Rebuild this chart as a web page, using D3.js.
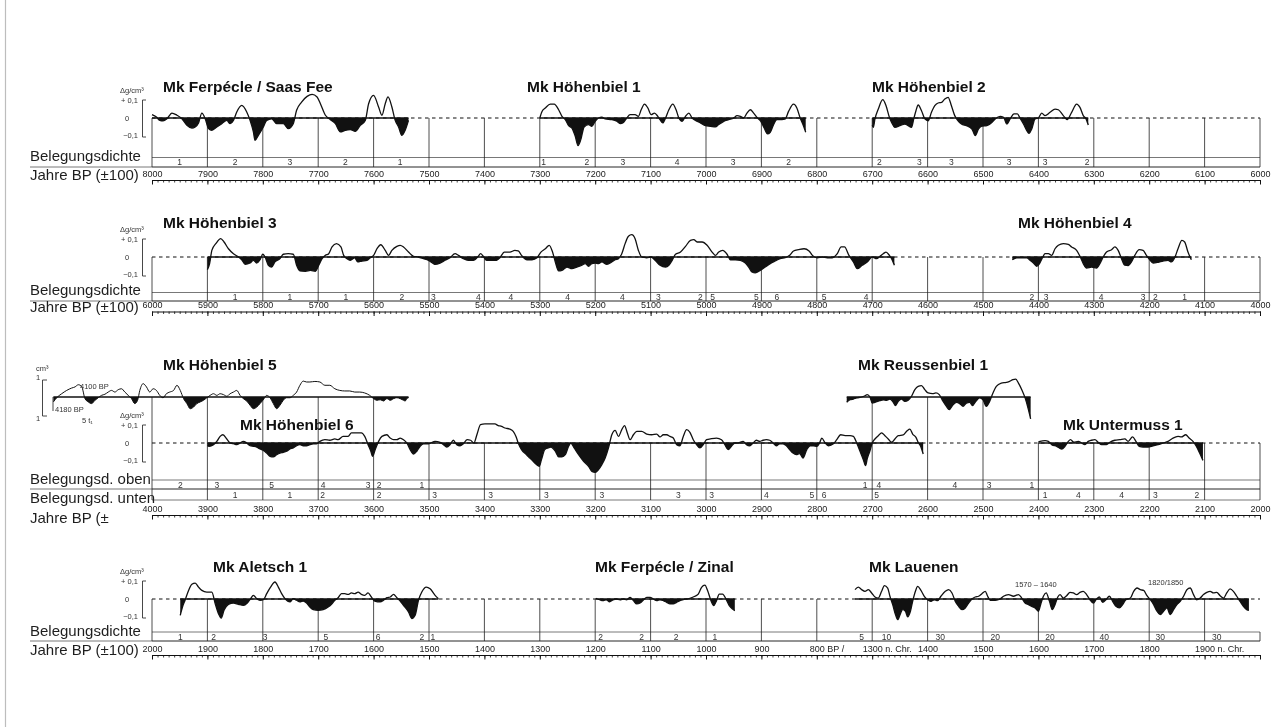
<!DOCTYPE html>
<html>
<head>
<meta charset="utf-8">
<script src="https://cdn.jsdelivr.net/npm/d3@7"></script>
<style>
  body { margin: 0; background: #fff; }
  svg { display: block; will-change: transform; }
  text { font-family: "Liberation Sans", Arial, Helvetica, sans-serif; }
  .cap { font-size: 15px; fill: #1e1e1e; }
  .title { font-size: 15.5px; font-weight: bold; fill: #111; }
  .small { font-size: 7.5px; fill: #333; }
  .dens { font-size: 8.5px; fill: #333; }
</style>
</head>
<body>
<svg id="chart" width="1280" height="727"></svg>
<script>
// Density anomaly series, [year BP, Δg/cm³]
const ferpecleSaasFee = [[8000,0.018],[7992,0.005],[7986,-0.013],[7980,-0.016],[7973,-0.004],[7964,0.027],[7955,0.015],[7946,-0.004],[7937,-0.04],[7928,-0.055],[7922,-0.049],[7916,-0.027],[7910,0.027],[7904,-0.004],[7898,-0.058],[7892,-0.067],[7883,-0.049],[7874,-0.031],[7865,-0.013],[7859,-0.031],[7853,-0.013],[7847,0.033],[7838,0.069],[7829,0.033],[7823,-0.013],[7817,-0.076],[7814,-0.122],[7808,-0.095],[7799,-0.049],[7793,-0.013],[7784,-0.004],[7775,-0.031],[7763,-0.031],[7754,-0.058],[7745,-0.031],[7739,0.042],[7730,0.087],[7720,0.118],[7711,0.129],[7702,0.115],[7696,0.078],[7687,0.015],[7678,-0.009],[7669,-0.031],[7660,-0.076],[7651,-0.067],[7642,-0.064],[7633,-0.073],[7624,-0.04],[7615,-0.013],[7609,0.078],[7600,0.124],[7591,0.06],[7585,0.015],[7579,0.078],[7574,0.115],[7567,0.06],[7561,-0.013],[7555,-0.049],[7549,-0.095],[7543,-0.067],[7537,-0.013]];

const hoehenbiel1 = [[7300,0],[7296,0.036],[7290,0.055],[7281,0.076],[7274,0.076],[7266,0.045],[7260,0.009],[7254,-0.009],[7248,-0.042],[7242,-0.055],[7236,-0.1],[7231,-0.151],[7226,-0.118],[7220,-0.049],[7212,-0.036],[7206,-0.045],[7200,-0.018],[7194,0],[7188,0.004],[7182,-0.005],[7170,-0.009],[7161,-0.018],[7155,-0.031],[7149,-0.024],[7143,0],[7137,0.018],[7128,0.018],[7122,0.009],[7117,0.045],[7111,0.076],[7105,0.055],[7099,0.018],[7093,0.027],[7087,0.009],[7083,-0.009],[7078,-0.027],[7073,0],[7067,0.045],[7060,0.076],[7054,0.045],[7049,0],[7043,-0.018],[7037,0.009],[7031,0.027],[7025,0],[7019,-0.013],[7010,-0.027],[7001,-0.042],[6992,-0.045],[6983,-0.049],[6977,-0.036],[6968,-0.018],[6959,-0.009],[6950,0],[6944,0.013],[6938,0.009],[6932,0],[6926,0.027],[6920,0.045],[6914,0.027],[6907,0],[6901,-0.018],[6895,-0.055],[6889,-0.087],[6884,-0.078],[6878,-0.036],[6872,-0.009],[6863,-0.009],[6857,-0.005],[6851,0.036],[6842,0.076],[6836,0.055],[6830,0],[6825,-0.036],[6820,-0.078]];

const hoehenbiel2 = [[6700,-0.04],[6698,-0.051],[6695,-0.005],[6689,0.049],[6681,0.1],[6675,0.067],[6669,0.004],[6665,-0.024],[6659,-0.051],[6650,-0.042],[6641,-0.033],[6635,-0.042],[6629,-0.051],[6625,-0.005],[6621,0.04],[6617,0.071],[6611,0.04],[6605,-0.005],[6599,-0.015],[6593,0.031],[6587,0.067],[6581,0.082],[6575,0.085],[6569,0.104],[6563,0.113],[6557,0.067],[6551,0.013],[6545,-0.015],[6539,-0.033],[6530,-0.042],[6520,-0.06],[6514,-0.096],[6508,-0.06],[6502,-0.045],[6493,-0.042],[6484,-0.024],[6478,-0.005],[6469,0.009],[6463,0.004],[6457,-0.033],[6451,-0.005],[6444,0.022],[6438,0.022],[6433,-0.002],[6427,-0.033],[6421,-0.069],[6417,-0.084],[6412,-0.06],[6406,-0.005],[6400,0],[6394,0.027],[6388,0.013],[6379,0.031],[6370,0.049],[6364,0.045],[6355,0.013],[6348,-0.009],[6340,0.031],[6331,0.076],[6325,0.058],[6319,0.013],[6314,-0.005],[6310,-0.038]];

const hoehenbiel3 = [[5900,-0.069],[5896,-0.036],[5892,0.036],[5884,0.076],[5876,0.1],[5870,0.082],[5862,0.045],[5853,0.018],[5844,0],[5838,-0.015],[5832,-0.04],[5823,-0.033],[5817,-0.018],[5811,-0.033],[5805,-0.015],[5800,0.015],[5796,0],[5790,-0.045],[5784,-0.055],[5778,-0.027],[5769,-0.009],[5763,0.015],[5754,0.018],[5745,0.015],[5739,-0.045],[5733,-0.076],[5723,-0.078],[5714,-0.073],[5705,-0.078],[5699,-0.045],[5693,-0.009],[5687,0.009],[5681,0.018],[5675,0.055],[5667,0.073],[5659,0.055],[5654,0.009],[5648,-0.009],[5642,-0.018],[5634,-0.004],[5629,-0.027],[5621,-0.022],[5612,-0.018],[5606,-0.004],[5600,0.009],[5594,0.045],[5587,0.067],[5579,0.036],[5573,0.009],[5567,0.036],[5558,0.058],[5552,0.064],[5546,0.055],[5537,0.027],[5528,0.004],[5519,0],[5510,-0.009],[5501,-0.018],[5492,-0.036],[5489,-0.04],[5480,-0.033],[5471,-0.018],[5462,-0.004],[5453,0.018],[5447,0.009],[5438,-0.009],[5429,-0.018],[5420,-0.018],[5411,0.004],[5407,0.018],[5402,0.004],[5396,-0.018],[5387,-0.018],[5378,-0.018],[5372,-0.004],[5364,0.027],[5354,0.027],[5345,0.036],[5339,0.033],[5333,0.009],[5323,-0.015],[5314,-0.015],[5305,-0.004],[5298,0.027],[5290,0.045],[5283,0.064],[5277,0.027],[5272,-0.027],[5266,-0.076],[5260,-0.073],[5251,-0.055],[5242,-0.064],[5233,-0.055],[5224,-0.045],[5218,-0.036],[5212,-0.051],[5206,-0.036],[5200,-0.033],[5194,-0.036],[5188,-0.027],[5179,-0.04],[5170,-0.027],[5164,-0.015],[5158,-0.009],[5152,0.018],[5146,0.073],[5140,0.113],[5134,0.122],[5128,0.1],[5122,0.036],[5116,0],[5107,-0.004],[5099,0],[5092,-0.018],[5083,-0.045],[5073,-0.055],[5067,-0.045],[5061,-0.018],[5055,0.015],[5046,0.027],[5037,0.058],[5028,0.091],[5022,0.095],[5016,0.082],[5007,0.082],[4998,0.064],[4989,0.027],[4983,0.009],[4977,0.027],[4970,0.036],[4962,0.015],[4956,-0.015],[4947,-0.015],[4938,-0.018],[4929,-0.033],[4923,-0.055],[4917,-0.082],[4911,-0.087],[4902,-0.073],[4893,-0.055],[4884,-0.036],[4875,-0.022],[4866,-0.009],[4857,-0.004],[4849,0.009],[4842,0.033],[4833,0.04],[4823,0.045],[4814,0.033],[4808,0.009],[4799,-0.004],[4790,0],[4781,-0.004],[4772,-0.004],[4763,0.018],[4756,0.055],[4750,0.055],[4742,0.009],[4734,-0.027],[4727,-0.064],[4718,-0.045],[4709,-0.027],[4700,0],[4692,-0.009],[4686,0.004],[4680,0.018],[4675,0.027],[4669,0.009],[4665,-0.009],[4660,-0.045]];

const hoehenbiel4 = [[4447,-0.015],[4439,-0.004],[4430,-0.004],[4421,-0.004],[4415,-0.018],[4409,-0.033],[4403,-0.051],[4398,-0.036],[4392,0],[4388,0.018],[4382,0.018],[4376,0.009],[4370,0.045],[4364,0.064],[4355,0.073],[4346,0.069],[4340,0.055],[4331,0.036],[4325,0.004],[4319,-0.036],[4313,-0.06],[4304,-0.055],[4295,-0.06],[4289,-0.036],[4283,0],[4277,0.027],[4268,0.04],[4262,0.055],[4256,0.036],[4250,-0.009],[4244,-0.045],[4238,-0.047],[4232,-0.027],[4226,0.009],[4218,0.04],[4211,0.036],[4205,0.009],[4199,-0.015],[4193,-0.033],[4184,-0.029],[4175,-0.022],[4166,-0.018],[4160,-0.027],[4154,-0.004],[4148,0.045],[4141,0.091],[4136,0.082],[4130,0.027],[4124,-0.015]];

const hoehenbiel5 = [[4178,-0.027],[4172,-0.004],[4163,0.018],[4154,0.036],[4145,0.049],[4139,0.055],[4133,0.067],[4127,0.058],[4121,-0.009],[4115,-0.027],[4109,-0.036],[4103,-0.018],[4097,-0.004],[4091,0.009],[4085,0.015],[4079,0.027],[4073,0.036],[4067,0.027],[4061,0.04],[4055,0.045],[4049,0.027],[4043,0.009],[4037,-0.009],[4031,-0.036],[4026,-0.018],[4022,0.036],[4016,0.073],[4010,0.055],[4004,0.027],[3998,0.045],[3992,0.036],[3986,0.009],[3980,-0.004],[3974,0.018],[3968,0.027],[3961,0.036],[3955,0.064],[3949,0.036],[3943,-0.009],[3937,-0.036],[3931,-0.064],[3925,-0.055],[3919,-0.036],[3913,-0.027],[3907,-0.018],[3901,-0.004],[3895,0.009],[3889,0.018],[3883,0.009],[3877,0.018],[3871,0.013],[3865,0.004],[3859,0.018],[3853,0.027],[3847,0.036],[3841,0.009],[3835,-0.009],[3829,-0.022],[3823,-0.045],[3817,-0.064],[3811,-0.055],[3805,-0.036],[3799,-0.015],[3793,0.009],[3787,-0.004],[3781,-0.036],[3775,-0.064],[3769,-0.045],[3763,-0.018],[3757,-0.004],[3751,-0.004],[3745,0.009],[3739,0.027],[3733,0.064],[3727,0.087],[3721,0.082],[3715,0.082],[3706,0.085],[3697,0.082],[3688,0.064],[3679,0.064],[3670,0.045],[3661,0.036],[3652,0.033],[3643,0.033],[3634,0.027],[3625,0.027],[3616,0.022],[3607,0.009],[3600,-0.009],[3594,-0.018],[3588,-0.015],[3582,-0.022],[3576,-0.009],[3570,-0.018],[3564,-0.009],[3558,-0.004],[3552,-0.009],[3546,-0.018],[3543,-0.022],[3540,-0.009],[3537,-0.004]];

const hoehenbiel6 = [[3900,-0.015],[3897,-0.018],[3889,-0.009],[3883,0.009],[3877,0.036],[3872,0.045],[3865,0.022],[3859,0],[3853,-0.004],[3847,-0.009],[3841,0],[3835,0.009],[3829,0],[3823,-0.015],[3817,-0.018],[3811,-0.022],[3805,-0.033],[3799,-0.04],[3793,-0.055],[3787,-0.073],[3781,-0.076],[3775,-0.064],[3769,-0.055],[3763,-0.051],[3757,-0.045],[3751,-0.033],[3745,-0.027],[3739,-0.015],[3733,-0.009],[3727,-0.015],[3721,-0.015],[3715,-0.009],[3709,-0.004],[3703,-0.004],[3697,0.009],[3688,0.018],[3679,0.015],[3670,0.022],[3664,0.018],[3655,0.036],[3646,0.036],[3640,0.055],[3631,0.055],[3622,0.055],[3616,0.036],[3610,-0.009],[3605,-0.045],[3602,-0.073],[3597,-0.036],[3591,0.009],[3585,0.036],[3576,0.045],[3570,0.027],[3564,0.018],[3558,0.018],[3552,0.027],[3546,0.018],[3540,0],[3534,-0.036],[3528,-0.06],[3522,-0.045],[3516,-0.018],[3510,-0.004],[3501,-0.004],[3489,0.009],[3480,0.004],[3474,-0.009],[3468,-0.022],[3462,-0.009],[3456,0.015],[3450,-0.009],[3444,-0.015],[3438,-0.004],[3431,0.018],[3425,0.015],[3419,0],[3413,0.051],[3407,0.1],[3399,0.104],[3390,0.104],[3381,0.104],[3375,0.095],[3369,0.091],[3363,0.082],[3354,0.076],[3348,0.064],[3343,0.036],[3339,0],[3333,-0.036],[3324,-0.064],[3318,-0.082],[3312,-0.1],[3306,-0.118],[3301,-0.127],[3297,-0.091],[3291,-0.036],[3285,-0.027],[3280,-0.022],[3272,-0.045],[3266,-0.076],[3260,-0.076],[3254,-0.064],[3248,-0.018],[3244,0],[3238,-0.027],[3230,-0.064],[3221,-0.1],[3212,-0.127],[3206,-0.155],[3200,-0.16],[3194,-0.145],[3188,-0.118],[3182,-0.082],[3176,-0.027],[3170,0.045],[3164,0.069],[3158,0.036],[3152,0.073],[3147,0.095],[3142,0.055],[3137,0.018],[3131,0.045],[3125,0.064],[3116,0.064],[3107,0.049],[3098,0.045],[3089,0.049],[3083,0.033],[3077,0.045],[3071,0.045],[3065,0.036],[3059,0.027],[3053,-0.009],[3047,-0.015],[3041,0.036],[3035,0.073],[3029,0.058],[3023,0.018],[3017,-0.009],[3011,-0.027],[3005,-0.009],[2999,0.018],[2990,0.024],[2981,0.027],[2972,0.018],[2966,-0.009],[2960,-0.036],[2954,-0.018],[2948,0],[2942,0],[2933,0.009],[2927,-0.009],[2921,-0.015],[2915,0],[2909,0.015],[2903,0.009],[2897,0.015],[2891,0.018],[2885,0.015],[2879,0],[2873,-0.015],[2867,-0.004],[2861,-0.004],[2855,-0.015],[2849,-0.036],[2843,-0.055],[2837,-0.064],[2831,-0.058],[2825,-0.082],[2818,-0.036],[2812,-0.015],[2806,-0.015],[2800,-0.018],[2795,0],[2791,0.027],[2785,0],[2779,-0.015],[2770,-0.004],[2764,0.018],[2757,0.045],[2749,0.04],[2740,0.04],[2734,0.036],[2728,0],[2722,-0.045],[2716,-0.091],[2712,-0.124],[2709,-0.087],[2704,-0.042],[2700,0],[2695,0.022],[2689,0.04],[2683,0.055],[2677,0.04],[2671,0.022],[2665,0.004],[2659,0.022],[2653,0.04],[2644,0.044],[2637,0.067],[2632,0.076],[2627,0.049],[2621,0.031],[2617,0.004],[2613,-0.015],[2608,-0.06]];

const reussenbiel1 = [[2746,-0.029],[2740,-0.015],[2734,-0.011],[2728,-0.005],[2719,0],[2713,0.007],[2709,0.013],[2704,0],[2700,-0.033],[2695,-0.029],[2686,-0.02],[2680,-0.015],[2674,-0.018],[2668,-0.011],[2662,-0.029],[2658,-0.047],[2653,-0.024],[2647,-0.011],[2641,-0.024],[2635,-0.018],[2629,0.004],[2623,0.04],[2617,0.058],[2611,0.062],[2605,0.04],[2599,0.022],[2591,0.018],[2585,0.022],[2579,0.013],[2572,-0.024],[2566,-0.051],[2561,-0.069],[2554,-0.042],[2548,-0.029],[2542,-0.036],[2536,-0.051],[2530,-0.033],[2524,-0.029],[2519,-0.047],[2513,-0.024],[2506,-0.005],[2500,-0.015],[2494,-0.051],[2488,-0.024],[2482,0.022],[2476,0.058],[2467,0.076],[2458,0.08],[2452,0.085],[2446,0.095],[2441,0.098],[2436,0.076],[2430,0.04],[2424,-0.005],[2418,-0.069],[2414,-0.12]];

const untermuss1 = [[2400,0.005],[2397,0.009],[2388,0.013],[2382,0.009],[2376,-0.009],[2367,-0.018],[2358,-0.033],[2352,-0.018],[2346,0.009],[2342,0.018],[2336,0.004],[2328,0.009],[2322,0],[2316,-0.009],[2310,0.009],[2304,0.015],[2298,0.018],[2292,0.004],[2286,-0.009],[2277,-0.009],[2271,0.004],[2262,0.015],[2253,0.018],[2244,0.022],[2238,0.009],[2230,0.033],[2224,0.009],[2218,-0.018],[2211,-0.022],[2202,-0.022],[2193,-0.015],[2184,-0.009],[2175,0],[2166,0.009],[2157,0.027],[2148,0.036],[2142,0.033],[2134,0.045],[2128,0.027],[2121,0.009],[2115,-0.018],[2109,-0.055],[2103,-0.095]];

const aletsch1 = [[1949,-0.089],[1945,-0.044],[1940,-0.004],[1934,0.047],[1928,0.08],[1922,0.087],[1916,0.065],[1910,0.047],[1901,0.038],[1892,0.038],[1886,-0.025],[1880,-0.08],[1875,-0.104],[1870,-0.062],[1862,-0.029],[1853,-0.022],[1844,-0.029],[1835,-0.035],[1828,-0.022],[1822,0.002],[1817,0.02],[1811,0.002],[1805,-0.007],[1799,-0.004],[1793,0.029],[1786,0.065],[1778,0.093],[1772,0.065],[1766,0.029],[1760,0.002],[1751,-0.016],[1745,0.002],[1739,-0.007],[1733,-0.016],[1727,-0.011],[1721,-0.022],[1715,-0.044],[1709,-0.058],[1700,-0.062],[1691,-0.058],[1682,-0.044],[1676,-0.029],[1670,-0.007],[1664,0.007],[1658,0.029],[1652,0.029],[1646,0.025],[1640,0.033],[1634,0.029],[1628,0.038],[1622,0.025],[1616,0.02],[1610,0.033],[1604,0.011],[1598,-0.011],[1588,-0.016],[1582,-0.007],[1576,0.007],[1570,0.011],[1564,0.025],[1558,0.007],[1552,-0.011],[1546,-0.035],[1537,-0.071],[1531,-0.107],[1525,-0.089],[1519,-0.007],[1513,0.038],[1505,0.065],[1498,0.056],[1489,0.02],[1483,0.002]];

const ferpecleZinal = [[1199,0.004],[1192,-0.004],[1186,-0.009],[1180,-0.004],[1174,-0.015],[1168,-0.005],[1162,0],[1155,-0.005],[1149,0],[1143,-0.004],[1137,0.009],[1131,-0.009],[1125,-0.027],[1119,-0.022],[1113,-0.005],[1107,0.009],[1101,0.009],[1095,0],[1089,-0.009],[1083,-0.004],[1077,-0.009],[1071,-0.018],[1065,-0.027],[1059,-0.027],[1053,-0.018],[1047,-0.009],[1041,-0.004],[1035,0],[1029,0.004],[1020,0.015],[1014,0.027],[1008,0.064],[1002,0.076],[997,0.045],[991,-0.009],[986,-0.036],[981,-0.009],[976,0.027],[970,0.027],[964,0],[958,-0.036],[952,-0.055],[948,-0.064]];

// Lauenen is dated in years AD
const lauenenAD = [[1269,0.051],[1275,0.065],[1281,0.051],[1287,0.042],[1293,0.051],[1299,0.033],[1305,0.011],[1311,0.005],[1317,0.042],[1322,0.073],[1328,0.06],[1332,0.015],[1337,-0.031],[1342,-0.085],[1346,-0.113],[1351,-0.08],[1355,-0.058],[1360,-0.067],[1364,-0.098],[1369,-0.067],[1373,-0.013],[1378,0.042],[1382,0.069],[1388,0.047],[1394,0.015],[1400,-0.004],[1406,-0.013],[1412,-0.004],[1418,-0.009],[1424,0.015],[1432,0.042],[1438,0.051],[1444,0.033],[1450,-0.013],[1456,-0.04],[1462,-0.058],[1468,-0.049],[1474,-0.022],[1480,0],[1486,0.011],[1492,0.015],[1498,0.029],[1504,0.042],[1508,0.018],[1513,-0.007],[1522,-0.007],[1531,0],[1537,0.015],[1546,0.024],[1555,0.015],[1564,0.024],[1570,0.005],[1576,-0.022],[1582,-0.031],[1588,-0.04],[1594,-0.049],[1600,-0.067],[1604,-0.031],[1609,0.015],[1614,0.033],[1620,-0.013],[1625,-0.058],[1630,-0.031],[1635,0.011],[1639,0.024],[1645,0.005],[1651,0.018],[1657,0.036],[1663,0.033],[1669,0.024],[1675,0.036],[1681,0.042],[1687,0.024],[1693,-0.004],[1699,-0.022],[1705,0],[1710,0.011],[1716,-0.018],[1722,-0.004],[1728,0.015],[1734,-0.013],[1740,-0.04],[1746,-0.049],[1752,-0.031],[1758,-0.004],[1766,0.005],[1772,0.042],[1778,0.06],[1784,0.051],[1790,0.047],[1796,0.018],[1802,-0.004],[1808,-0.031],[1814,-0.067],[1820,-0.085],[1826,-0.067],[1832,-0.049],[1838,-0.085],[1844,-0.058],[1850,-0.031],[1856,-0.013],[1862,0.015],[1868,0.051],[1874,0.06],[1880,0.024],[1886,-0.004],[1892,0.005],[1898,0.024],[1904,0.036],[1910,0.042],[1916,0.033],[1922,0.036],[1928,0.018],[1934,0.005],[1940,0.033],[1946,0.055],[1952,0.042],[1958,0.015],[1964,-0.013],[1970,-0.04],[1976,-0.058],[1980,-0.062]];

// Sample depth ("Belegungsdichte") labels, [year, label]
const densityRow1 = [[7950,"1"],[7850,"2"],[7751,"3"],[7651,"2"],[7552,"1"],[7293,"1"],[7215,"2"],[7150,"3"],[7052,"4"],[6951,"3"],[6851,"2"],[6687,"2"],[6615,"3"],[6557,"3"],[6453,"3"],[6388,"3"],[6312,"2"]];
const densityRow2 = [[5850,"1"],[5751,"1"],[5650,"1"],[5549,"2"],[5492,"3"],[5411,"4"],[5352,"4"],[5250,"4"],[5151,"4"],[5086,"3"],[5010,"2"],[4988,"5"],[4909,"5"],[4872,"6"],[4787,"5"],[4711,"4"],[4412,"2"],[4386,"3"],[4287,"4"],[4211,"3"],[4189,"2"],[4136,"1"]];
const densityRow3Upper = [[3949,"2"],[3883,"3"],[3784,"5"],[3691,"4"],[3610,"3"],[3590,"2"],[3513,"1"],[2713,"1"],[2688,"4"],[2551,"4"],[2489,"3"],[2412,"1"]];
const densityRow3Lower = [[3850,"1"],[3751,"1"],[3692,"2"],[3590,"2"],[3490,"3"],[3389,"3"],[3288,"3"],[3188,"3"],[3050,"3"],[2990,"3"],[2891,"4"],[2809,"5"],[2787,"6"],[2692,"5"],[2388,"1"],[2328,"4"],[2250,"4"],[2189,"3"],[2114,"2"]];
const densityRow4 = [[1949,"1"],[1889,"2"],[1796,"3"],[1686,"5"],[1592,"6"],[1513,"2"],[1493,"1"],[1190,"2"],[1116,"2"],[1054,"2"],[984,"1"]];
const densityLauenenAD = [[1281,"5"],[1326,"10"],[1423,"30"],[1522,"20"],[1621,"20"],[1719,"40"],[1820,"30"],[1922,"30"]];

// Axis tick labels
const centuryLabelsRow4BP = [2000,1900,1800,1700,1600,1500,1400,1300,1200,1100,1000,900,800];
const centuryLabelsRow4AD = [1300,1400,1500,1600,1700,1800,1900];

const svg = d3.select("#chart");
const X0 = 152, X1 = 1260, PX_PER_01 = 18.3;
const INK = "#111";

// page edge
svg.append("line").attr("x1", 5.5).attr("x2", 5.5).attr("y1", 0).attr("y2", 727)
  .attr("stroke", "#bdbdbd").attr("stroke-width", 1.2);

const rows = [
  { start: 8000, zero: 118, bands: [157.5, 167], sepY: 167, axisY: 180,
    caps: [["Belegungsdichte", 161], ["Jahre BP (±100)", 180]],
    density: [densityRow1] },
  { start: 6000, zero: 257, bands: [292.5, 301], sepY: 301, axisY: 311.5,
    caps: [["Belegungsdichte", 295], ["Jahre BP (±100)", 312]],
    density: [densityRow2] },
  { start: 4000, zero: 443, bands: [480, 489, 500], sepY: 489, axisY: 515,
    caps: [["Belegungsd. oben", 484], ["Belegungsd. unten", 503], ["Jahre BP (±", 523]],
    density: [densityRow3Upper, densityRow3Lower],
    topFor: c => (c >= 3600 || (c <= 2700 && c >= 2500)) ? 397 : 443 },
  { start: 2000, zero: 599, bands: [632, 641], sepY: 641, axisY: 655,
    caps: [["Belegungsdichte", 636], ["Jahre BP (±100)", 655]],
    density: [densityRow4] }
];

const gridLayer = svg.append("g");
const markLayer = svg.append("g");
const textLayer = svg.append("g");

rows.forEach((r, i) => {
  const x = d3.scaleLinear().domain([r.start, r.start - 2000]).range([X0, X1]);
  r.x = x;
  const bottom = r.bands[r.bands.length - 1];

  // captions on the left
  r.caps.forEach(([t, yb]) => textLayer.append("text").attr("class", "cap")
    .attr("x", 30).attr("y", yb).text(t));

  // caption separator and density bands
  gridLayer.append("line").attr("x1", 30).attr("x2", X1).attr("y1", r.sepY).attr("y2", r.sepY)
    .attr("stroke", "#555").attr("stroke-width", 0.8);
  r.bands.forEach(b => gridLayer.append("line").attr("x1", X0).attr("x2", X1)
    .attr("y1", b).attr("y2", b).attr("stroke", "#555").attr("stroke-width", 0.8));

  // dashed zero reference
  gridLayer.append("line").attr("x1", X0).attr("x2", X1).attr("y1", r.zero).attr("y2", r.zero)
    .attr("stroke", INK).attr("stroke-width", 1.2).attr("stroke-dasharray", "3.5,3.5");

  // century lines
  const centuries = d3.range(r.start, r.start - 2001, -100);
  centuries.forEach(c => {
    let top = r.topFor ? r.topFor(c) : r.zero;
    if (i === 3 && c === 0) top = r.bands[0];
    gridLayer.append("line").attr("x1", x(c)).attr("x2", x(c)).attr("y1", top).attr("y2", bottom)
      .attr("stroke", "#222").attr("stroke-width", 0.8);
  });

  // time axis: decade ticks, century ticks, century labels
  const decades = d3.range(r.start, r.start - 2001, -10);
  const ax = gridLayer.append("g").attr("transform", `translate(0,${r.axisY})`)
    .call(d3.axisBottom(x).tickValues(decades).tickSize(2.5).tickSizeOuter(0).tickFormat(""));
  ax.select(".domain").attr("stroke", INK).attr("stroke-width", 1.1);
  ax.selectAll(".tick line").attr("stroke", INK).attr("stroke-width", 0.8);
  const axc = gridLayer.append("g").attr("transform", `translate(0,${r.axisY})`)
    .call(d3.axisBottom(x).tickValues(centuries).tickSize(4.5).tickFormat(""));
  axc.select(".domain").remove();
  axc.selectAll(".tick line").attr("stroke", INK).attr("stroke-width", 1);

  const labelVals = i === 3 ? centuryLabelsRow4BP : centuries;
  const axl = textLayer.append("g").attr("transform", `translate(0,${r.axisY})`)
    .call(d3.axisTop(x).tickValues(labelVals).tickSize(0).tickPadding(3.5)
      .tickFormat(d => (i === 3 && d === 800) ? "800 BP /" : d3.format("d")(d)));
  axl.select(".domain").remove();
  axl.selectAll("text").attr("font-size", 9).attr("fill", "#222")
    .attr("font-family", '"Liberation Sans", Arial, sans-serif');
  if (i === 3) {
    axl.selectAll("text").filter(d => d === 800).attr("text-anchor", "start").attr("dx", -7.5);
  }

  // density labels
  r.density.forEach((arr, k) => {
    const y0 = r.bands[k], y1 = r.bands[k + 1];
    arr.forEach(([yr, lab]) => textLayer.append("text").attr("class", "dens")
      .attr("x", x(yr)).attr("y", (y0 + y1) / 2 + 3).attr("text-anchor", "middle").text(lab));
  });
});

// Lauenen uses a calendar-year scale aligned to the last row
const xRow4 = rows[3].x;
const xAD = d3.scaleLinear().domain([1300, 1900]).range([xRow4(700), xRow4(100)]);
{
  const r = rows[3];
  const axl = textLayer.append("g").attr("transform", `translate(0,${r.axisY})`)
    .call(d3.axisTop(xAD).tickValues(centuryLabelsRow4AD).tickSize(0).tickPadding(3.5)
      .tickFormat(d => (d === 1300 || d === 1900) ? d + " n. Chr." : String(d)));
  axl.select(".domain").remove();
  axl.selectAll("text").attr("font-size", 9).attr("fill", "#222")
    .attr("font-family", '"Liberation Sans", Arial, sans-serif');
  axl.selectAll("text").filter(d => d === 1300 || d === 1900).attr("text-anchor", "start").attr("dx", -10);
  densityLauenenAD.forEach(([yr, lab]) => textLayer.append("text").attr("class", "dens")
    .attr("x", xAD(yr)).attr("y", (r.bands[0] + r.bands[1]) / 2 + 3).attr("text-anchor", "middle").text(lab));
}

const chronologies = [
  { name: "Mk Ferpécle / Saas Fee", data: ferpecleSaasFee, row: 0, zero: 118, tx: 163, ty: 92 },
  { name: "Mk Höhenbiel 1", data: hoehenbiel1, row: 0, zero: 118, tx: 527, ty: 92 },
  { name: "Mk Höhenbiel 2", data: hoehenbiel2, row: 0, zero: 118, tx: 872, ty: 92 },
  { name: "Mk Höhenbiel 3", data: hoehenbiel3, row: 1, zero: 257, tx: 163, ty: 228 },
  { name: "Mk Höhenbiel 4", data: hoehenbiel4, row: 1, zero: 257, tx: 1018, ty: 228 },
  { name: "Mk Höhenbiel 5", data: hoehenbiel5, row: 2, zero: 397, tx: 163, ty: 370, thin: true },
  { name: "Mk Höhenbiel 6", data: hoehenbiel6, row: 2, zero: 443, tx: 240, ty: 430 },
  { name: "Mk Reussenbiel 1", data: reussenbiel1, row: 2, zero: 397, tx: 858, ty: 370 },
  { name: "Mk Untermuss 1", data: untermuss1, row: 2, zero: 443, tx: 1063, ty: 430 },
  { name: "Mk Aletsch 1", data: aletsch1, row: 3, zero: 599, tx: 213, ty: 572 },
  { name: "Mk Ferpécle / Zinal", data: ferpecleZinal, row: 3, zero: 599, tx: 595, ty: 572 },
  { name: "Mk Lauenen", data: lauenenAD, row: 3, zero: 599, tx: 869, ty: 572, ad: true }
];

const defs = svg.append("defs");
chronologies.forEach((c, k) => {
  const x = c.ad ? xAD : rows[c.row].x;
  const y = d3.scaleLinear().domain([-0.1, 0.1]).range([c.zero + PX_PER_01, c.zero - PX_PER_01]);
  const xs = c.data.map(d => x(d[0]));
  const xa = d3.min(xs), xb = d3.max(xs);

  // solid zero line under the series
  markLayer.append("line").attr("x1", xa).attr("x2", xb).attr("y1", y(0)).attr("y2", y(0))
    .attr("stroke", INK).attr("stroke-width", 1.4);

  // negative departures filled black
  const id = "neg" + k;
  defs.append("clipPath").attr("id", id).append("rect")
    .attr("x", xa - 1).attr("y", y(0)).attr("width", xb - xa + 2).attr("height", 80);
  markLayer.append("path").datum(c.data)
    .attr("d", d3.area().x(d => x(d[0])).y0(y(0)).y1(d => y(d[1])).curve(d3.curveMonotoneX))
    .attr("clip-path", `url(#${id})`).attr("fill", INK);

  // the density curve
  markLayer.append("path").datum(c.data)
    .attr("d", d3.line().x(d => x(d[0])).y(d => y(d[1])).curve(d3.curveMonotoneX))
    .attr("fill", "none").attr("stroke", INK).attr("stroke-width", c.thin ? 1.0 : 1.3)
    .attr("stroke-linejoin", "round");

  textLayer.append("text").attr("class", "title").attr("x", c.tx).attr("y", c.ty).text(c.name);
});

// value scale keys
function valueKey(zero) {
  const g = textLayer.append("g");
  g.append("text").attr("class", "small").attr("x", 120).attr("y", zero - 25).text("Δg/cm³").attr("font-size", 8);
  g.append("text").attr("class", "small").attr("x", 138).attr("y", zero - 15.5).attr("text-anchor", "end").text("+ 0,1");
  g.append("text").attr("class", "small").attr("x", 127).attr("y", zero + 3).attr("text-anchor", "middle").text("0");
  g.append("text").attr("class", "small").attr("x", 138).attr("y", zero + 19.5).attr("text-anchor", "end").text("−0,1");
  g.append("path").attr("d", `M146,${zero - 18}H142.5V${zero + 19}H146`)
    .attr("fill", "none").attr("stroke", "#333").attr("stroke-width", 0.9);
}
[118, 257, 443, 599].forEach(valueKey);

// key for the upper series of row 3
{
  const g = textLayer.append("g");
  g.append("text").attr("class", "small").attr("x", 36).attr("y", 371).text("cm³");
  g.append("text").attr("class", "small").attr("x", 36).attr("y", 380).text("1");
  g.append("text").attr("class", "small").attr("x", 36).attr("y", 421).text("1");
  g.append("path").attr("d", "M47,380H42.5V416H47").attr("fill", "none").attr("stroke", "#333").attr("stroke-width", 0.9);
  g.append("text").attr("class", "small").attr("x", 80).attr("y", 389).text("4100 BP");
  g.append("text").attr("class", "small").attr("x", 55).attr("y", 412).text("4180 BP");
  g.append("text").attr("class", "small").attr("x", 82).attr("y", 423).text("5 t₁");
  g.append("line").attr("x1", 53).attr("x2", 53).attr("y1", 397).attr("y2", 411)
    .attr("stroke", "#333").attr("stroke-width", 0.9);
}

// period notes in the Lauenen series
textLayer.append("text").attr("class", "small").attr("x", 1015).attr("y", 587).text("1570 – 1640");
textLayer.append("text").attr("class", "small").attr("x", 1148).attr("y", 585).text("1820/1850");
</script>
</body>
</html>
